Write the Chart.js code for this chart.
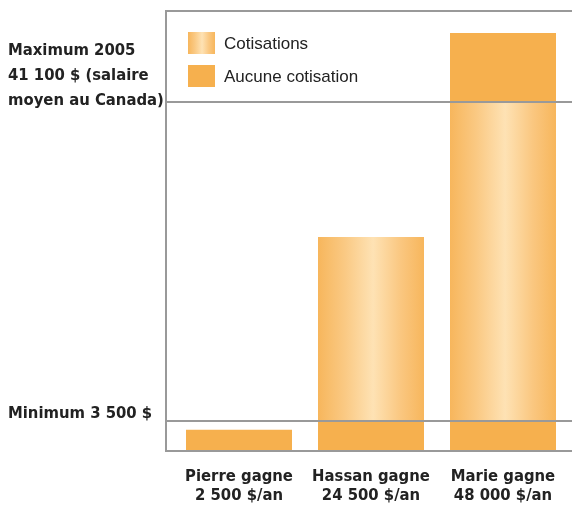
<!DOCTYPE html>
<html>
<head>
<meta charset="utf-8">
<script src="https://cdn.jsdelivr.net/npm/chart.js@4"></script>
<style>
  html, body { margin: 0; padding: 0; background: #fff; }
</style>
</head>
<body>
<canvas id="myChart" width="572" height="507"></canvas>
<script>
var categories = [["Pierre gagne", "2 500 $/an"], ["Hassan gagne", "24 500 $/an"], ["Marie gagne", "48 000 $/an"]];
var earnings = [2500, 25200, 49200];
var minimum = 3500;
var maximum = 41100;
var tickValues = [3500, 41100];
var tickLabels = [["Minimum 3 500 $", ""], ["Maximum 2005", "41 100 $ (salaire", "moyen au Canada)", "", ""]];
var legendLabels = ["Cotisations", "Aucune cotisation"];

var orange = "#F6B04E";
var lineGray = "#999999";
var narrow = "'DejaVu Sans Condensed', 'Liberation Sans', sans-serif";
var barPct = 0.803;

// split each bar: below minimum, contributions, above maximum
var below = earnings.map(function (v) { return Math.min(v, minimum); });
var contrib = earnings.map(function (v) { return Math.max(0, Math.min(v, maximum) - minimum); });
var above = earnings.map(function (v) { return Math.max(0, v - maximum); });

function makeGradient(c, x0, x1) {
  var g = c.createLinearGradient(x0, 0, x1, 0);
  g.addColorStop(0, "#F7B65C");
  g.addColorStop(0.25, "#FAC983");
  g.addColorStop(0.52, "#FEE2B4");
  g.addColorStop(0.78, "#FAC780");
  g.addColorStop(1, "#F7B65C");
  return g;
}

function barGradient(ctx) {
  var chart = ctx.chart;
  if (!chart.chartArea || ctx.dataIndex === undefined) return orange;
  var xs = chart.scales.x;
  var cx = xs.getPixelForValue(ctx.dataIndex);
  var w = xs.width / categories.length * barPct;
  return makeGradient(chart.ctx, cx - w / 2, cx + w / 2);
}

var frame = {
  id: "frame",
  afterDatasetsDraw: function (chart) {
    var c = chart.ctx, a = chart.chartArea, y = chart.scales.y;
    var left = a.left - 7, right = chart.width;
    c.save();
    c.strokeStyle = lineGray;
    c.lineWidth = 2;
    c.beginPath();
    c.moveTo(left - 1, a.top); c.lineTo(right, a.top);
    c.moveTo(left, a.top); c.lineTo(left, a.bottom);
    c.moveTo(left - 1, a.bottom); c.lineTo(right, a.bottom);
    tickValues.forEach(function (v) {
      var py = Math.round(y.getPixelForValue(v));
      c.moveTo(left, py); c.lineTo(right, py);
    });
    c.stroke();
    c.restore();
  }
};

var boxLegend = {
  id: "boxLegend",
  afterDraw: function (chart) {
    var c = chart.ctx;
    var x = 188, y = 32, bw = 27, bh = 22, gap = 33;
    c.save();
    c.font = "17px 'Liberation Sans', Arial, sans-serif";
    c.textBaseline = "middle";
    c.fillStyle = makeGradient(c, x, x + bw);
    c.fillRect(x, y, bw, bh);
    c.fillStyle = orange;
    c.fillRect(x, y + gap, bw, bh);
    c.fillStyle = "#222";
    c.fillText(legendLabels[0], x + 36, y + bh / 2 + 1);
    c.fillText(legendLabels[1], x + 36, y + gap + bh / 2 + 1);
    c.restore();
  }
};

new Chart("myChart", {
  type: "bar",
  data: {
    labels: categories,
    datasets: [
      { label: legendLabels[1], data: below, backgroundColor: orange },
      { label: legendLabels[0], data: contrib, backgroundColor: barGradient },
      { label: legendLabels[1], data: above, backgroundColor: orange }
    ]
  },
  options: {
    responsive: false,
    animation: false,
    datasets: { bar: { barPercentage: barPct, categoryPercentage: 1, borderWidth: 0 } },
    layout: { padding: { left: 8, right: 3, top: 11, bottom: 0 } },
    plugins: { legend: { display: false }, tooltip: { enabled: false } },
    scales: {
      x: {
        stacked: true,
        grid: { display: false, drawTicks: false },
        border: { display: false },
        ticks: {
          color: "#222",
          font: { family: narrow, size: 16.5, weight: "bold", lineHeight: "19px" },
          padding: 16,
          maxRotation: 0,
          autoSkip: false
        },
        afterFit: function (s) { s.height = 56; s.paddingLeft = 0; s.paddingRight = 0; }
      },
      y: {
        stacked: true,
        min: 0,
        max: 51800,
        grid: { display: false, drawTicks: false },
        border: { display: false },
        afterBuildTicks: function (s) { s.ticks = tickValues.map(function (v) { return { value: v }; }); },
        ticks: {
          callback: function (v, i) { return tickLabels[i]; },
          crossAlign: "far",
          labelOffset: -1,
          padding: 0,
          color: "#222",
          font: function (ctx) {
            return { family: narrow, size: 16.5, weight: "bold", lineHeight: ctx.index === 0 ? "14px" : "25px" };
          }
        },
        afterFit: function (s) { s.width = 165; s.paddingTop = 0; s.paddingBottom = 0; }
      }
    }
  },
  plugins: [frame, boxLegend]
});
</script>
</body>
</html>
